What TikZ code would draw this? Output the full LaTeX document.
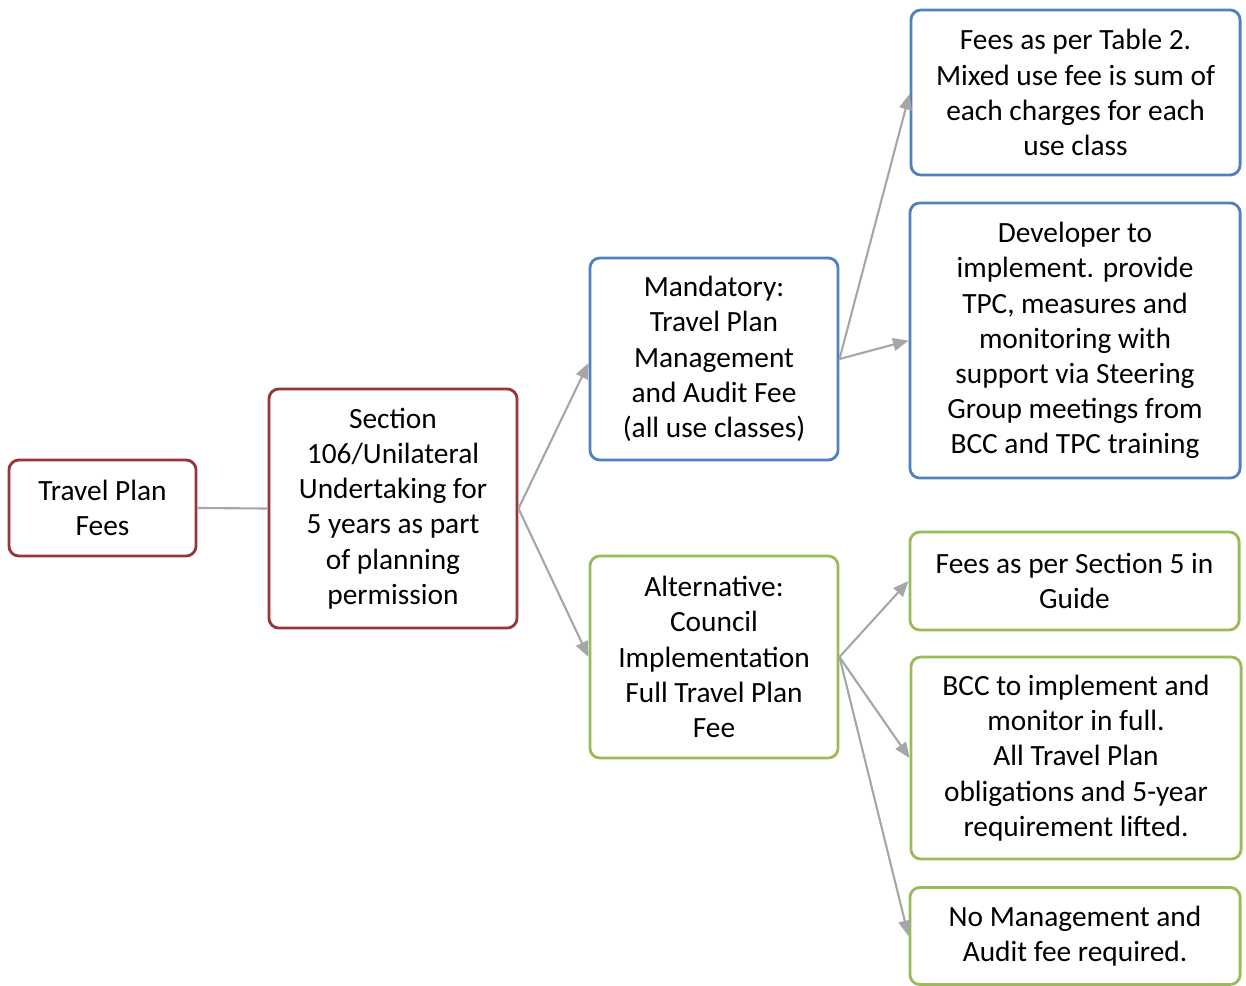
\documentclass[tikz,border=0pt]{standalone}
\usepackage{fontspec}
\setmainfont{Carlito}
\usetikzlibrary{arrows.meta}
\definecolor{boxred}{HTML}{953735}
\definecolor{boxblue}{HTML}{4F81BD}
\definecolor{boxgreen}{HTML}{9BBB59}
\definecolor{linkgray}{HTML}{A6A6A6}
\tikzset{
    feebox/.style={draw, line width=0.8pt, rounded corners=0.1cm, fill=white,
        align=center, inner sep=0pt, font=\fontsize{8.35}{10}\selectfont},
    redbox/.style={feebox, draw=boxred},
    bluebox/.style={feebox, draw=boxblue},
    greenbox/.style={feebox, draw=boxgreen},
    link/.style={draw=linkgray, line width=0.6pt},
    linkarrow/.style={link, -{Triangle[length=4.4pt, width=3.6pt]}}
}

\begin{document}
\begin{tikzpicture}[x=0.01cm, y=-0.01cm]
    \useasboundingbox (0,0) rectangle (1246,985);
    % root and agreement
    \node [redbox, minimum width=1.87cm, minimum height=0.96cm] (fees) at (102.5,508) {Travel Plan\\Fees};
    \node [redbox, minimum width=2.48cm, minimum height=2.39cm] (section) at (393,508.5) {Section\\106/Unilateral\\Undertaking for\\5 years as part\\of planning\\permission};
    % the two routes
    \node [bluebox, minimum width=2.48cm, minimum height=2.02cm] (mandatory) at (714,359) {Mandatory:\\Travel Plan\\Management\\and Audit Fee\\(all use classes)};
    \node [greenbox, minimum width=2.48cm, minimum height=2.02cm] (alternative) at (714,657) {Alternative:\\Council\\Implementation\\Full Travel Plan\\Fee};
    % mandatory outcomes
    \node [bluebox, minimum width=3.29cm, minimum height=1.65cm] (tablefees) at (1075.5,92.5) {Fees as per Table 2.\\Mixed use fee is sum of\\each charges for each\\use class};
    \node [bluebox, minimum width=3.30cm, minimum height=2.75cm] (developer) at (1075,340.5) {Developer to\\implement. provide\\TPC, measures and\\monitoring with\\support via Steering\\Group meetings from\\BCC and TPC training};
    % alternative outcomes
    \node [greenbox, minimum width=3.29cm, minimum height=0.98cm] (sectionfees) at (1074.5,581) {Fees as per Section 5 in\\Guide};
    \node [greenbox, minimum width=3.30cm, minimum height=2.02cm] (bcc) at (1076,758) {BCC to implement and\\monitor in full.\\All Travel Plan\\obligations and 5-year\\requirement lifted.};
    \node [greenbox, minimum width=3.30cm, minimum height=0.97cm] (noaudit) at (1075,936) {No Management and\\Audit fee required.};
    % connectors
    \draw [link] (fees.east) -- (section.west);
    \draw [linkarrow] (section.east) -- ([yshift=-0.04cm]mandatory.west);
    \draw [linkarrow] (section.east) -- (alternative.west);
    \draw [linkarrow] (mandatory.east) -- ([yshift=-0.015cm]tablefees.west);
    \draw [linkarrow] (mandatory.east) -- (developer.west);
    \draw [linkarrow] (alternative.east) -- (sectionfees.west);
    \draw [linkarrow] (alternative.east) -- (bcc.west);
    \draw [linkarrow] (alternative.east) -- (noaudit.west);
\end{tikzpicture}
\end{document}
